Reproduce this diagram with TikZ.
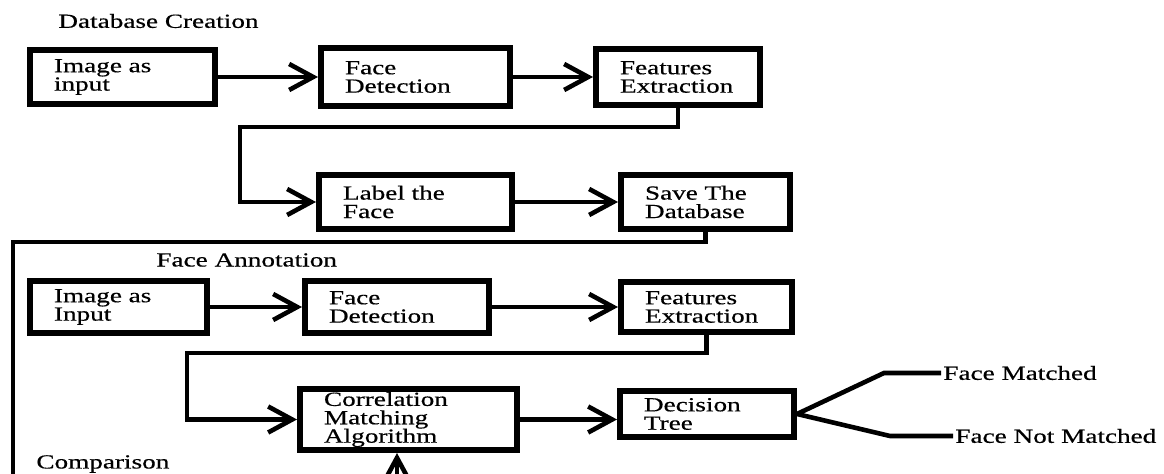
\documentclass[tikz,border=0pt]{standalone}
\usepackage{fontspec}
\setmainfont{Liberation Serif}[FakeStretch=1.36, FakeBold=0.5]
\usepackage{tikz}
\usetikzlibrary{positioning, arrows.meta}

\begin{document}
\begin{tikzpicture}[
    x=0.5pt, y=-0.5pt,
    font=\fontsize{10}{9.2}\selectfont,
    node distance=50pt,
    blk/.style={draw, line width=3pt, inner xsep=12pt, inner ysep=0pt, minimum height=27pt, align=left, text width=#1},
    lbl/.style={inner sep=1pt, anchor=west},
    ln/.style={line width=2.3pt},
    arr/.style={ln, -{Straight Barb[length=12pt, width=13pt]}}
]
    \useasboundingbox (0,0) rectangle (1164,474);

    % Database creation
    \node[lbl] (dbc) at (56,21) {Database Creation};
    \node[blk=68.5pt, minimum height=27pt] (img1) at (122.5,77) {Image as\\input};
    \node[blk=70.5pt, minimum height=29pt, right=50pt of img1] (det1) {Face\\Detection};
    \node[blk=58pt, minimum height=28pt, right=40pt of det1] (feat1) {Features\\Extraction};
    \node[blk=72.5pt, below=31.5pt of det1] (lab1) {Label the\\Face};
    \node[blk=60.5pt, right=51.5pt of lab1] (save1) {Save The\\Database};

    % Face annotation
    \node[lbl] (fan) at (154,260) {Face Annotation};
    \node[blk=64.5pt, minimum height=26pt] (img2) at (118.5,307) {Image as\\Input};
    \node[blk=68pt, minimum height=26pt, right=46pt of img2] (det2) {Face\\Detection};
    \node[blk=61.5pt, minimum height=25pt, right=63pt of det2] (feat2) {Features\\Extraction};
    \node[blk=84.5pt, minimum height=30.5pt] (corr) at (408.5,419.5) {Correlation\\Matching\\Algorithm};
    \node[blk=63pt, minimum height=23pt, right=48.5pt of corr, yshift=2.75pt] (dec) {Decision\\Tree};
    \node[lbl] (match) at (941,373) {Face Matched};
    \node[lbl] (nomatch) at (953,436) {Face Not Matched};

    % Comparison
    \node[lbl] (cmp) at (34,464) {Comparison};

    % Bends
    \coordinate (turn1) at (240,127);
    \coordinate (turn2) at (13,242);
    \coordinate (loopend) at (13,474);
    \coordinate (turn3) at (187,353);
    \coordinate (mbend) at (884,373);
    \coordinate (nbend) at (890,436);
    \coordinate (cmpin) at (397,474);

    % Connectors
    \draw[arr] (img1) -- (det1);
    \draw[arr] (det1) -- (feat1);
    \draw[arr] (feat1.south) |- (turn1) |- (lab1);
    \draw[arr] (lab1) -- (save1);
    \draw[ln] (save1.south) |- (turn2) -- (loopend);
    \draw[arr] (img2) -- (det2);
    \draw[arr] (det2) -- (feat2);
    \draw[arr] (feat2.south) |- (turn3) |- (corr);
    \draw[arr] (corr) -- (corr -| dec.west);
    \draw[ln] (dec.east) -- (mbend) -- (match.west);
    \draw[ln] (dec.east) -- (nbend) -- (nomatch.west);
    \draw[arr] (cmpin) -- (cmpin |- corr.south);
\end{tikzpicture}
\end{document}
